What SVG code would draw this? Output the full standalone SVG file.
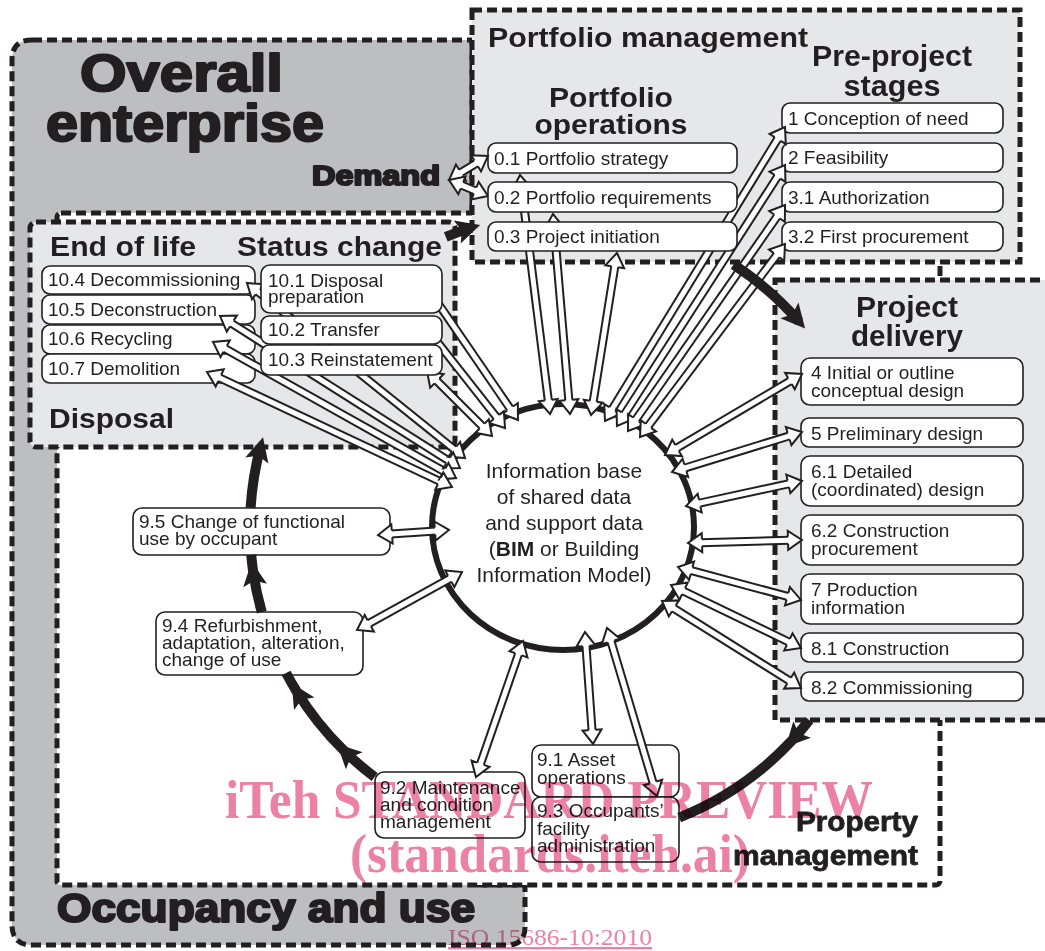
<svg xmlns="http://www.w3.org/2000/svg" width="1045" height="951" viewBox="0 0 1045 951">
<style>
.reg{stroke:#231f20;stroke-width:5;stroke-dasharray:10 5}
.box{fill:#fff;stroke:#231f20;stroke-width:1.6}
.t{font-family:"Liberation Sans",Arial,sans-serif;font-size:19px;fill:#231f20}
.c{font-size:21px;text-anchor:middle}
.h{font-family:"Liberation Sans",Arial,sans-serif;font-weight:bold;fill:#231f20}
.hv{stroke:#231f20;stroke-width:2.2;stroke-linejoin:round}
.hm{stroke:#231f20;stroke-width:0.8;stroke-linejoin:round}
.mid{text-anchor:middle}
.end{text-anchor:end}
.ao{fill:none;stroke:#231f20;stroke-width:9}
.ai{fill:none;stroke:#fff;stroke-width:5}
.ah{fill:none;stroke:none;marker-start:url(#hh);marker-end:url(#hh)}
.cy{fill:none;stroke:#231f20;stroke-width:10}
.cyh{marker-end:url(#ch)}
.wm{font-family:"Liberation Serif","Times New Roman",serif;fill:#ec82a3}
</style>
<defs>
  <!-- hollow arrowhead for the data-exchange arrows -->
  <marker id="hh" markerUnits="userSpaceOnUse" orient="auto-start-reverse" refX="1" refY="0" markerWidth="30" markerHeight="30" overflow="visible">
    <path d="M0,-9.5 L14,0 L0,9.5 Z" fill="#fff"/>
    <path d="M0,-3.5 L0,-9.5 L14,0 L0,9.5 L0,3.5" fill="none" stroke="#231f20" stroke-width="2"/>
  </marker>
  <!-- solid barbed head for the life-cycle ring -->
  <marker id="ch" markerUnits="userSpaceOnUse" orient="auto" refX="0" refY="0" markerWidth="40" markerHeight="40" overflow="visible">
    <path d="M9,0 L-15,-12 L-10,0 L-15,12 Z" fill="#231f20"/>
  </marker>
  <!-- arrow shafts -->
  <path id="c01" d="M521.6,187.9 L548.4,401.1"/>
  <path id="c02" d="M554.1,227.0 L568.9,401.0"/>
  <path id="c03" d="M614.9,265.8 L593.1,402.2"/>
  <path id="c04" d="M460.1,173.2 L476.9,162.8"/>
  <path id="c05" d="M461.0,184.9 L476.0,191.1"/>
  <path id="c06" d="M611.8,409.9 L778.2,138.1"/>
  <path id="c07" d="M624.0,415.1 L778.0,175.9"/>
  <path id="c08" d="M635.4,420.3 L777.6,215.7"/>
  <path id="c09" d="M647.8,426.6 L777.2,254.4"/>
  <path id="c10" d="M676.2,448.4 L790.8,380.6"/>
  <path id="c11" d="M684.4,468.2 L789.6,435.8"/>
  <path id="c12" d="M698.7,503.3 L789.3,483.7"/>
  <path id="c13" d="M701.0,542.7 L789.0,540.3"/>
  <path id="c14" d="M690.6,570.4 L788.4,596.6"/>
  <path id="c15" d="M682.7,590.7 L789.3,642.3"/>
  <path id="c16" d="M673.0,607.9 L790.0,681.1"/>
  <path id="c17" d="M510.6,409.3 L429.4,290.7"/>
  <path id="c18" d="M497.0,417.8 L432.0,335.2"/>
  <path id="c19" d="M482.8,426.8 L436.2,380.2"/>
  <path id="c20" d="M454.9,449.9 L257.1,291.1"/>
  <path id="c21" d="M449.0,461.0 L231.0,323.0"/>
  <path id="c22" d="M444.7,471.7 L224.3,348.3"/>
  <path id="c23" d="M440.2,481.5 L218.8,377.5"/>
  <path id="c24" d="M436.0,530.9 L391.0,534.1"/>
  <path id="c25" d="M450.6,578.3 L368.4,623.7"/>
  <path id="c26" d="M518.8,653.3 L480.2,764.7"/>
  <path id="c27" d="M585.9,645.0 L592.1,731.0"/>
  <path id="c28" d="M610.7,640.5 L653.3,783.5"/>
</defs>

<!-- outer zone -->
<g id="overall-enterprise">
  <path class="reg" fill="#bcbec0" d="M32,40 H472 V885 H525 V927 Q525,945 507,945 H32 Q12,945 12,925 V60 Q12,40 32,40 Z"/>
  <text class="h hv" x="80" y="91" font-size="51" textLength="203" lengthAdjust="spacingAndGlyphs">Overall</text>
  <text class="h hv" x="46" y="141" font-size="51" textLength="278" lengthAdjust="spacingAndGlyphs">enterprise</text>
  <text class="h hv" x="57" y="922" font-size="40" textLength="418" lengthAdjust="spacingAndGlyphs">Occupancy and use</text>
</g>
<g id="demand">
  <text class="h hv" x="312" y="185" font-size="28" textLength="128" lengthAdjust="spacingAndGlyphs">Demand</text>
</g>
<g id="property-management">
  <rect class="reg" fill="#fff" x="57" y="213" width="883" height="672" rx="4"/>
  <text class="h hm end" x="918" y="831" font-size="28" textLength="122" lengthAdjust="spacingAndGlyphs">Property</text>
  <text class="h hm end" x="918" y="865" font-size="28" textLength="185" lengthAdjust="spacingAndGlyphs">management</text>
</g>
<g id="disposal">
  <rect class="reg" fill="#e6e7e8" x="30" y="222" width="425" height="225" rx="6"/>
  <text class="h" x="50" y="256" font-size="27" textLength="146" lengthAdjust="spacingAndGlyphs">End of life</text>
  <text class="h" x="237" y="256" font-size="27" textLength="205" lengthAdjust="spacingAndGlyphs">Status change</text>
  <text class="h" x="49" y="428" font-size="28" textLength="125" lengthAdjust="spacingAndGlyphs">Disposal</text>
</g>
<g id="portfolio-management">
  <rect class="reg" fill="#e6e7e8" x="472" y="10" width="548" height="252"/>
  <text class="h" x="488" y="47" font-size="27" textLength="320" lengthAdjust="spacingAndGlyphs">Portfolio management</text>
  <text class="h mid" x="892" y="66" font-size="29" textLength="160" lengthAdjust="spacingAndGlyphs">Pre-project</text>
  <text class="h mid" x="892" y="96" font-size="29" textLength="97" lengthAdjust="spacingAndGlyphs">stages</text>
  <text class="h mid" x="611" y="107" font-size="28" textLength="124" lengthAdjust="spacingAndGlyphs">Portfolio</text>
  <text class="h mid" x="611" y="134" font-size="28" textLength="153" lengthAdjust="spacingAndGlyphs">operations</text>
</g>
<g id="project-delivery">
  <rect class="reg" fill="#e6e7e8" x="775" y="280" width="275" height="440"/>
  <text class="h mid" x="907" y="317" font-size="29" textLength="102" lengthAdjust="spacingAndGlyphs">Project</text>
  <text class="h mid" x="907" y="346" font-size="29" textLength="112" lengthAdjust="spacingAndGlyphs">delivery</text>
</g>

<!-- end-of-life stages -->
<g id="n10-4"><rect class="box" x="42" y="266" width="213" height="28" rx="8"/><text class="t" x="48" y="286">10.4 Decommissioning</text></g>
<g id="n10-5"><rect class="box" x="42" y="295" width="213" height="29" rx="8"/><text class="t" x="48" y="316">10.5 Deconstruction</text></g>
<g id="n10-6"><rect class="box" x="42" y="325" width="213" height="29" rx="8"/><text class="t" x="48" y="345">10.6 Recycling</text></g>
<g id="n10-7"><rect class="box" x="42" y="354" width="213" height="29" rx="8"/><text class="t" x="48" y="375">10.7 Demolition</text></g>

<!-- portfolio and pre-project stages -->
<g id="n0-1"><rect class="box" x="488" y="143" width="249" height="30" rx="8"/><text class="t" x="494" y="165">0.1 Portfolio strategy</text></g>
<g id="n1"><rect class="box" x="782" y="103" width="221" height="30" rx="8"/><text class="t" x="788" y="125">1 Conception of need</text></g>
<g id="n2"><rect class="box" x="782" y="143" width="221" height="29" rx="8"/><text class="t" x="788" y="164">2 Feasibility</text></g>
<g id="n3-1"><rect class="box" x="782" y="182" width="221" height="30" rx="8"/><text class="t" x="788" y="204">3.1 Authorization</text></g>
<g id="n3-2"><rect class="box" x="782" y="222" width="221" height="29" rx="8"/><text class="t" x="788" y="243">3.2 First procurement</text></g>

<!-- project delivery stages -->
<g id="n4"><rect class="box" x="801" y="358" width="222" height="47" rx="9"/><text class="t" x="811" y="379">4 Initial or outline<tspan x="811" dy="18">conceptual design</tspan></text></g>
<g id="n5"><rect class="box" x="801" y="418" width="222" height="29" rx="8"/><text class="t" x="811" y="440">5 Preliminary design</text></g>
<g id="n6-1"><rect class="box" x="801" y="456" width="222" height="50" rx="9"/><text class="t" x="811" y="478">6.1 Detailed<tspan x="811" dy="18">(coordinated) design</tspan></text></g>
<g id="n6-2"><rect class="box" x="801" y="515" width="222" height="50" rx="9"/><text class="t" x="811" y="537">6.2 Construction<tspan x="811" dy="18">procurement</tspan></text></g>
<g id="n7"><rect class="box" x="801" y="574" width="222" height="50" rx="9"/><text class="t" x="811" y="596">7 Production<tspan x="811" dy="18">information</tspan></text></g>
<g id="n8-1"><rect class="box" x="801" y="633" width="222" height="29" rx="8"/><text class="t" x="811" y="655">8.1 Construction</text></g>
<g id="n8-2"><rect class="box" x="801" y="672" width="222" height="29" rx="8"/><text class="t" x="811" y="694">8.2 Commissioning</text></g>

<!-- occupancy stages -->
<g id="n9-5"><rect class="box" x="133" y="508" width="257" height="47" rx="9"/><text class="t" x="139" y="528">9.5 Change of functional<tspan x="139" dy="17">use by occupant</tspan></text></g>
<g id="n9-4"><rect class="box" x="156" y="612" width="207" height="63" rx="9"/><text class="t" x="162" y="632">9.4 Refurbishment,<tspan x="162" dy="17">adaptation, alteration,</tspan><tspan x="162" dy="17">change of use</tspan></text></g>
<g id="n9-2"><rect class="box" x="375" y="772" width="150" height="66" rx="9"/><text class="t" x="380" y="794">9.2 Maintenance<tspan x="380" dy="17">and condition</tspan><tspan x="380" dy="17">management</tspan></text></g>
<g id="n9-1"><rect class="box" x="532" y="745" width="147" height="52" rx="9"/><text class="t" x="537" y="766">9.1 Asset<tspan x="537" dy="18">operations</tspan></text></g>
<g id="n9-3"><rect class="box" x="532" y="797" width="147" height="65" rx="9"/><text class="t" x="537" y="817">9.3 Occupants’<tspan x="537" dy="18">facility</tspan><tspan x="537" dy="17">administration</tspan></text></g>

<!-- shared information hub -->
<g id="information-base">
  <ellipse cx="563" cy="527" rx="131" ry="123" fill="#fff" stroke="#231f20" stroke-width="6"/>
  <text class="t c" x="564" y="478">Information base</text>
  <text class="t c" x="564" y="504">of shared data</text>
  <text class="t c" x="564" y="530">and support data</text>
  <text class="t c" x="564" y="556">(<tspan font-weight="bold">BIM</tspan> or Building</text>
  <text class="t c" x="564" y="582">Information Model)</text>
</g>

<g id="connectors">
  <g class="ao">
    <use href="#c01"/><use href="#c02"/><use href="#c03"/><use href="#c04"/><use href="#c05"/><use href="#c06"/><use href="#c07"/>
    <use href="#c08"/><use href="#c09"/><use href="#c10"/><use href="#c11"/><use href="#c12"/><use href="#c13"/><use href="#c14"/>
    <use href="#c15"/><use href="#c16"/><use href="#c17"/><use href="#c18"/><use href="#c19"/><use href="#c20"/><use href="#c21"/>
    <use href="#c22"/><use href="#c23"/><use href="#c24"/><use href="#c25"/><use href="#c26"/><use href="#c27"/><use href="#c28"/>
  </g>
  <g class="ai">
    <use href="#c01"/><use href="#c02"/><use href="#c03"/><use href="#c04"/><use href="#c05"/><use href="#c06"/><use href="#c07"/>
    <use href="#c08"/><use href="#c09"/><use href="#c10"/><use href="#c11"/><use href="#c12"/><use href="#c13"/><use href="#c14"/>
    <use href="#c15"/><use href="#c16"/><use href="#c17"/><use href="#c18"/><use href="#c19"/><use href="#c20"/><use href="#c21"/>
    <use href="#c22"/><use href="#c23"/><use href="#c24"/><use href="#c25"/><use href="#c26"/><use href="#c27"/><use href="#c28"/>
  </g>
  <g class="ah">
    <use href="#c01"/><use href="#c02"/><use href="#c03"/><use href="#c04"/><use href="#c05"/><use href="#c06"/><use href="#c07"/>
    <use href="#c08"/><use href="#c09"/><use href="#c10"/><use href="#c11"/><use href="#c12"/><use href="#c13"/><use href="#c14"/>
    <use href="#c15"/><use href="#c16"/><use href="#c17"/><use href="#c18"/><use href="#c19"/><use href="#c20"/><use href="#c21"/>
    <use href="#c22"/><use href="#c23"/><use href="#c24"/><use href="#c25"/><use href="#c26"/><use href="#c27"/><use href="#c28"/>
  </g>
  <!-- life-cycle ring, visible pieces only -->
  <path class="cy cyh" d="M374.6,777.0 A313,313 0 0 1 343.6,750.3"/>
  <path class="cy cyh" d="M343.6,750.3 A313,313 0 0 1 296.4,691.0"/>
  <path class="cy" d="M296.4,691.0 A313,313 0 0 1 286.1,673.0"/>
  <path class="cy cyh" d="M261.8,612.2 A313,313 0 0 1 253.0,570.6"/>
  <path class="cy" d="M253.0,570.6 A313,313 0 0 1 251.2,554.8"/>
  <path class="cy cyh" d="M250.6,507.9 A313,313 0 0 1 260.7,446.0"/>
  <path class="cy cyh" d="M809.3,720.1 A313,313 0 0 1 791.9,740.5"/>
  <path class="cy" d="M791.9,740.5 A313,313 0 0 1 679.2,817.6"/>
  <path class="cy cyh" d="M445.8,236.8 A313,313 0 0 1 471.5,227.7"/>
  <path class="cy cyh" d="M733.5,264.5 A313,313 0 0 1 799.2,321.7"/>
</g>

<!-- boxes that sit over the passing arrows -->
<g id="n0-2"><rect class="box" x="488" y="182" width="249" height="30" rx="8"/><text class="t" x="494" y="204">0.2 Portfolio requirements</text></g>
<g id="n0-3"><rect class="box" x="488" y="222" width="249" height="29" rx="8"/><text class="t" x="494" y="243">0.3 Project initiation</text></g>
<g id="n10-1"><rect class="box" x="261" y="265" width="181" height="48" rx="9"/><text class="t" x="268" y="287">10.1 Disposal<tspan x="268" dy="16">preparation</tspan></text></g>
<g id="n10-2"><rect class="box" x="261" y="316" width="181" height="28" rx="8"/><text class="t" x="268" y="336">10.2 Transfer</text></g>
<g id="n10-3"><rect class="box" x="261" y="345" width="181" height="30" rx="8"/><text class="t" x="268" y="366">10.3 Reinstatement</text></g>

<!-- publisher stamp -->
<g id="stamp" style="mix-blend-mode:multiply">
  <text class="wm mid" x="549" y="818" font-size="54" font-weight="bold" textLength="648" lengthAdjust="spacingAndGlyphs">iTeh STANDARD PREVIEW</text>
  <text class="wm mid" x="550" y="872" font-size="54" font-weight="bold" textLength="400" lengthAdjust="spacingAndGlyphs">(standards.iteh.ai)</text>
  <text class="wm mid" x="550" y="945" font-size="24" text-decoration="underline" textLength="204" lengthAdjust="spacingAndGlyphs">ISO 15686-10:2010</text>
</g>
</svg>
